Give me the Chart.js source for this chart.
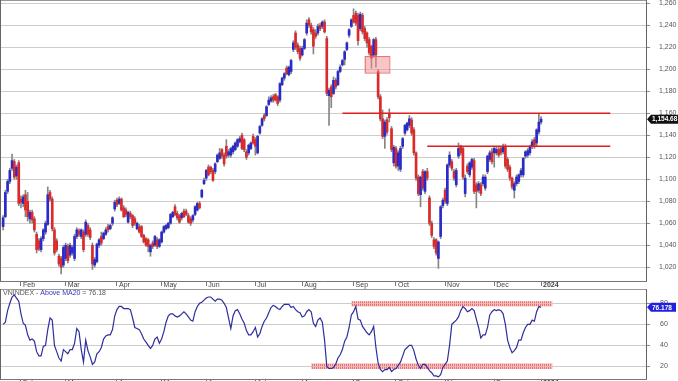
<!DOCTYPE html>
<html>
<head>
<meta charset="utf-8">
<script src="https://cdn.jsdelivr.net/npm/chart.js@4.4.0/dist/chart.umd.min.js"></script>
<style>
  html, body { margin: 0; padding: 0; background: #fff; overflow: hidden; width: 678px; height: 381px; }
  #top { position: absolute; left: 0; top: 0; width: 678px; height: 292px; }
  #bot { position: absolute; left: 0; top: 286px; width: 678px; height: 110px; }
</style>
</head>
<body>
<div id="top"><canvas id="price"></canvas></div>
<div id="bot"><canvas id="breadth"></canvas></div>
<script>
// daily candles, one per trading day (index 0 = mid Jan 2023, 241 = 2 Jan 2024)
const opens = [
  1057,1066,1089,1098,1110,1116,1103,1115,1082,1078,
  1086,1080,1064,1070,1064,1050,1044,1036,1046,1052,
  1059,1088,1082,1054,1044,1030,1028,1022,1028,1039,
  1031,1033,1028,1048,1053,1048,1052,1050,1058,1054,
  1040,1022,1025,1040,1048,1046,1050,1057,1055,1060,
  1073,1081,1078,1082,1074,1072,1061,1069,1067,1064,
  1055,1057,1057,1049,1046,1045,1034,1042,1040,1045,
  1039,1043,1052,1055,1056,1060,1066,1075,1069,1067,
  1065,1071,1071,1067,1064,1063,1068,1072,1078,1084,
  1096,1101,1111,1111,1108,1107,1116,1119,1127,1122,
  1130,1122,1122,1125,1127,1130,1134,1140,1136,1125,
  1124,1128,1139,1136,1124,1142,1149,1158,1158,1168,
  1171,1175,1177,1175,1172,1186,1192,1201,1195,1198,
  1218,1233,1222,1219,1213,1219,1233,1245,1240,1236,
  1233,1233,1240,1239,1243,1228,1176,1184,1178,1190,
  1186,1198,1204,1209,1218,1231,1239,1249,1251,1249,
  1237,1249,1237,1233,1227,1221,1213,1227,1198,1175,
  1155,1139,1154,1160,1146,1115,1128,1112,1109,1130,
  1142,1145,1149,1154,1145,1124,1102,1086,1107,1089,
  1107,1083,1060,1045,1045,1028,1048,1076,1090,1078,
  1113,1116,1107,1095,1121,1130,1128,1087,1112,1104,
  1111,1117,1095,1090,1095,1096,1092,1107,1118,1125,
  1124,1124,1127,1128,1125,1130,1118,1111,1101,1090,
  1096,1098,1104,1104,1121,1122,1124,1130,1136,1133,
  1143,1152
];
const highs = [
  1067,1090,1100,1110,1123,1118,1113,1117,1085,1086,
  1090,1088,1072,1072,1066,1052,1046,1048,1055,1062,
  1093,1090,1084,1056,1046,1032,1030,1040,1042,1041,
  1042,1040,1050,1056,1055,1055,1054,1063,1060,1056,
  1042,1029,1042,1046,1052,1052,1056,1059,1059,1066,
  1081,1083,1084,1083,1076,1074,1071,1071,1068,1066,
  1061,1059,1058,1050,1047,1046,1041,1044,1049,1047,
  1046,1053,1058,1059,1061,1069,1071,1077,1071,1068,
  1070,1073,1073,1069,1066,1068,1076,1079,1080,1091,
  1101,1109,1113,1112,1110,1115,1123,1128,1128,1124,
  1136,1127,1129,1131,1134,1137,1139,1142,1137,1127,
  1132,1134,1141,1138,1140,1149,1156,1160,1167,1175,
  1176,1177,1178,1176,1188,1193,1197,1203,1203,1209,
  1226,1235,1224,1221,1221,1228,1245,1247,1242,1238,
  1236,1241,1242,1244,1245,1230,1183,1186,1193,1192,
  1199,1204,1209,1217,1225,1237,1246,1255,1253,1251,
  1252,1251,1239,1234,1229,1222,1228,1229,1200,1177,
  1163,1154,1156,1164,1148,1131,1130,1126,1130,1138,
  1150,1152,1158,1156,1147,1125,1104,1103,1109,1108,
  1110,1085,1062,1047,1046,1044,1076,1083,1092,1114,
  1125,1118,1109,1110,1133,1131,1130,1104,1114,1116,
  1119,1119,1097,1098,1097,1104,1104,1122,1126,1128,
  1130,1129,1129,1130,1132,1132,1120,1113,1102,1098,
  1104,1105,1110,1120,1126,1128,1131,1136,1138,1146,
  1160,1157
];
const lows = [
  1054,1065,1087,1096,1108,1100,1100,1076,1074,1075,
  1066,1062,1060,1060,1052,1033,1035,1034,1044,1050,
  1058,1080,1053,1031,1034,1021,1014,1020,1026,1024,
  1029,1031,1026,1046,1048,1046,1034,1048,1048,1045,
  1018,1020,1024,1038,1040,1045,1049,1052,1054,1058,
  1071,1075,1077,1071,1065,1066,1060,1064,1056,1058,
  1054,1051,1047,1042,1039,1034,1030,1037,1039,1037,
  1038,1042,1051,1054,1055,1059,1065,1067,1063,1060,
  1063,1065,1067,1060,1058,1061,1067,1071,1073,1083,
  1095,1099,1103,1105,1098,1105,1115,1118,1119,1112,
  1119,1120,1120,1123,1126,1129,1133,1127,1125,1118,
  1122,1127,1132,1122,1123,1141,1148,1153,1157,1167,
  1170,1170,1171,1167,1170,1185,1190,1195,1194,1196,
  1216,1218,1214,1208,1212,1218,1231,1238,1232,1214,
  1228,1231,1235,1237,1233,1176,1149,1165,1177,1182,
  1185,1197,1203,1204,1217,1229,1238,1242,1240,1222,
  1235,1232,1226,1220,1213,1201,1211,1202,1173,1153,
  1137,1128,1141,1152,1125,1112,1110,1108,1107,1128,
  1140,1144,1147,1140,1122,1099,1085,1075,1090,1087,
  1099,1058,1047,1037,1031,1019,1046,1074,1078,1076,
  1111,1108,1099,1093,1119,1122,1100,1084,1105,1102,
  1109,1087,1074,1088,1085,1094,1090,1105,1116,1114,
  1111,1122,1120,1122,1123,1110,1107,1099,1091,1083,
  1094,1096,1102,1102,1119,1120,1122,1128,1128,1130,
  1141,1150
];
const closes = [
  1065,1088,1098,1108,1117,1102,1111,1078,1079,1084,
  1072,1066,1070,1063,1054,1036,1037,1046,1054,1060,
  1086,1082,1055,1033,1036,1023,1020,1038,1040,1026,
  1040,1038,1048,1054,1050,1054,1036,1061,1050,1047,
  1023,1027,1041,1045,1042,1051,1054,1054,1058,1065,
  1079,1077,1082,1072,1066,1068,1070,1066,1058,1060,
  1060,1052,1048,1043,1040,1039,1040,1039,1048,1039,
  1045,1052,1057,1058,1060,1068,1070,1068,1065,1061,
  1069,1066,1068,1061,1060,1067,1075,1078,1074,1090,
  1099,1108,1104,1107,1099,1114,1122,1124,1121,1114,
  1121,1125,1128,1130,1133,1136,1137,1128,1127,1120,
  1131,1133,1133,1130,1139,1148,1155,1155,1166,1172,
  1174,1172,1172,1169,1187,1192,1196,1196,1202,1208,
  1224,1220,1216,1210,1219,1227,1242,1240,1234,1221,
  1230,1239,1237,1243,1234,1178,1181,1175,1190,1184,
  1198,1202,1208,1216,1224,1236,1245,1243,1242,1226,
  1250,1234,1228,1224,1215,1210,1227,1213,1175,1155,
  1139,1152,1143,1156,1127,1129,1112,1124,1128,1137,
  1149,1151,1155,1142,1124,1101,1087,1102,1092,1107,
  1101,1060,1049,1039,1033,1043,1075,1081,1080,1113,
  1122,1110,1101,1108,1128,1124,1102,1101,1107,1115,
  1118,1089,1089,1096,1087,1102,1102,1121,1124,1116,
  1128,1127,1122,1124,1130,1112,1109,1101,1093,1096,
  1102,1104,1108,1119,1125,1126,1130,1134,1131,1145,
  1152,1154.68
];
// VNINDEX - % of stocks above MA20
const aboveMA20 = [
  60,62,73,80,86,88,85,82,70,61,
  59,50,45,46,44,34,30,30,39,40,
  55,66,64,40,34,28,25,36,34,32,
  36,36,42,56,53,36,24,45,35,29,
  22,24,32,34,38,46,49,50,50,55,
  68,74,77,77,75,75,75,74,66,57,
  56,55,51,46,43,40,37,40,46,48,
  42,46,53,62,68,70,70,68,67,68,
  70,72,70,67,64,63,72,77,80,81,
  83,85,86,86,84,82,84,84,83,80,
  76,66,56,68,73,74,70,65,61,54,
  50,50,53,57,48,51,58,63,66,71,
  76,78,77,75,74,77,79,79,79,76,
  77,74,72,71,67,68,72,74,72,61,
  58,64,66,62,45,20,18,18,19,22,
  28,31,36,44,48,57,69,72,77,65,
  64,58,55,52,50,53,58,38,23,17,
  15,17,17,19,15,17,18,21,24,30,
  36,38,40,40,35,27,21,18,22,22,
  19,16,14,11,11,10,12,19,22,25,
  40,60,62,64,67,73,77,75,72,73,
  75,73,65,57,47,50,50,57,69,72,
  74,73,74,73,70,60,45,38,33,35,
  38,45,45,52,57,60,60,64,63,72,
  77,76.18
];

const monthIdx = [8, 28, 51, 71, 91, 113, 134, 157, 176, 198, 220, 241];
const monthNames = ['Feb', 'Mar', 'Apr', 'May', 'Jun', 'Jul', 'Aug', 'Sep', 'Oct', 'Nov', 'Dec', '2024'];
const priceTicks = [1020, 1040, 1060, 1080, 1100, 1120, 1140, 1160, 1180, 1200, 1220, 1240, 1260];
const breadthTicks = [20, 40, 60, 80];

// drawn support / resistance levels (day index range, price)
const levelY = [1160, 1130];
const levelFrom = [152, 190];
const levelTo = [272, 272];
// pink zone on price chart: [fromIdx, toIdx, low, high]
const zoneBox = [162, 173, 1197, 1212];
// bands on breadth chart
const bandFrom = [156, 138];
const bandTo = [246, 246];
const bandLo = [77, 17.5];
const bandHi = [82, 23];

const lastClose = 1154.68;
const lastBreadth = 76.178;

const BLUE = '#2a2acb';
const RED = '#dc2a2a';
const FONT = "'Liberation Sans', Arial, sans-serif";
Chart.defaults.font.family = FONT;
Chart.defaults.font.size = 7;
Chart.defaults.color = '#444';

const frame = {
  id: 'frame',
  afterDraw(chart) {
    const {ctx, chartArea: a} = chart;
    ctx.save();
    ctx.lineWidth = 1;
    ctx.strokeStyle = '#999';
    ctx.beginPath();
    ctx.moveTo(a.left, a.top + 0.5); ctx.lineTo(a.right, a.top + 0.5);
    ctx.stroke();
    ctx.strokeStyle = '#666';
    ctx.beginPath();
    ctx.moveTo(a.right + 0.5, a.top); ctx.lineTo(a.right + 0.5, a.bottom);
    ctx.moveTo(a.left + 0.5, a.top); ctx.lineTo(a.left + 0.5, a.bottom);
    ctx.stroke();
    ctx.restore();
  }
};

function tag(ctx, x, y, w, color, text) {
  ctx.save();
  ctx.fillStyle = color;
  ctx.beginPath();
  ctx.moveTo(x + 1, y);
  ctx.lineTo(x + 5, y - 4.5);
  ctx.lineTo(x + w, y - 4.5);
  ctx.lineTo(x + w, y + 4.5);
  ctx.lineTo(x + 5, y + 4.5);
  ctx.closePath();
  ctx.fill();
  ctx.fillStyle = '#fff';
  ctx.font = 'bold 6.5px ' + FONT;
  ctx.textBaseline = 'middle';
  ctx.fillText(text, x + 6, y + 0.5);
  ctx.restore();
}

const priceExtras = {
  id: 'priceExtras',
  afterDatasetsDraw(chart) {
    const {ctx, chartArea: a, scales: {x, y}} = chart;
    const x1 = x.getPixelForValue(zoneBox[0]), x2 = x.getPixelForValue(zoneBox[1]);
    const y1 = y.getPixelForValue(zoneBox[3]), y2 = y.getPixelForValue(zoneBox[2]);
    ctx.save();
    ctx.fillStyle = 'rgba(245,140,140,0.5)';
    ctx.fillRect(x1, y1, x2 - x1, y2 - y1);
    ctx.strokeStyle = 'rgba(220,90,90,0.8)';
    ctx.lineWidth = 1;
    ctx.strokeRect(x1 + 0.5, y1 + 0.5, x2 - x1, y2 - y1);
    ctx.restore();
    tag(ctx, a.right, y.getPixelForValue(lastClose), 40, '#111', lastClose.toLocaleString('en-US'));
  }
};

let hatch = null;
function hatchPattern(ctx) {
  if (hatch) return hatch;
  const c = document.createElement('canvas');
  c.width = 2; c.height = 3;
  const g = c.getContext('2d');
  g.fillStyle = 'rgba(245,175,175,0.8)';
  g.fillRect(0, 0, 2, 3);
  g.fillStyle = 'rgba(228,105,105,0.9)';
  g.fillRect(0, 0, 1, 2);
  hatch = ctx.createPattern(c, 'repeat');
  return hatch;
}

const breadthExtras = {
  id: 'breadthExtras',
  beforeDatasetsDraw(chart) {
    const {ctx, scales: {x, y}} = chart;
    ctx.save();
    ctx.fillStyle = hatchPattern(ctx);
    for (let k = 0; k < bandFrom.length; k++) {
      const x1 = x.getPixelForValue(bandFrom[k]), x2 = x.getPixelForValue(bandTo[k]);
      const y1 = y.getPixelForValue(bandHi[k]), y2 = y.getPixelForValue(bandLo[k]);
      ctx.fillRect(x1, y1, x2 - x1, y2 - y1);
    }
    ctx.restore();
  },
  afterDatasetsDraw(chart) {
    const {ctx, chartArea: a, scales: {y}} = chart;
    ctx.save();
    ctx.font = '7px ' + FONT;
    ctx.textBaseline = 'top';
    let tx = a.left + 3;
    const parts = [['VNINDEX - ', '#555'], ['Above MA20', '#3535b5'], [' = 76.18', '#555']];
    parts.forEach(([t, c]) => {
      ctx.fillStyle = c;
      ctx.fillText(t, tx, a.top + 1);
      tx += ctx.measureText(t).width;
    });
    ctx.restore();
    tag(ctx, a.right, y.getPixelForValue(lastBreadth), 30, '#2222de', lastBreadth.toString());
  }
};

const wickData = highs.map((h, i) => ({x: i, y: [lows[i], h]}));
const bodyData = opens.map((o, i) => ({x: i, y: [o, closes[i]]}));
const bodyColors = opens.map((o, i) => closes[i] >= o ? BLUE : RED);
const levelSets = levelY.map((v, k) => ({
  type: 'line',
  data: [{x: levelFrom[k], y: v}, {x: levelTo[k], y: v}],
  borderColor: '#e01e1e',
  borderWidth: 1.5,
  pointRadius: 0,
  order: -1
}));

const monthAxis = (height) => ({
  type: 'linear',
  min: -1.4,
  max: 288,
  offset: false,
  afterBuildTicks: s => { s.ticks = monthIdx.map(v => ({value: v})); },
  afterFit: s => { s.height = height; s.paddingLeft = 0; s.paddingRight = 0; },
  grid: { offset: false, drawOnChartArea: false, tickLength: 5, tickColor: '#777' },
  border: { color: '#777' },
  ticks: {
    autoSkip: false,
    maxRotation: 0,
    align: 'start',
    labelOffset: 2,
    padding: -5,
    color: '#444',
    font: c => ({ size: 7, weight: c.index === monthIdx.length - 1 ? 'bold' : 'normal' }),
    callback: v => monthNames[monthIdx.indexOf(v)]
  }
});

new Chart(document.getElementById('price'), {
  type: 'bar',
  data: {
    datasets: [
      { data: wickData, backgroundColor: '#858585', barThickness: 1, grouped: false, order: 2 },
      { data: bodyData, backgroundColor: bodyColors, barThickness: 2, minBarLength: 1, grouped: false, order: 1 },
      ...levelSets
    ]
  },
  options: {
    responsive: true,
    maintainAspectRatio: false,
    animation: false,
    events: [],
    layout: { padding: 0 },
    plugins: { legend: { display: false }, tooltip: { enabled: false } },
    scales: {
      x: monthAxis(11),
      y: {
        position: 'right',
        min: 1007.5,
        max: 1263,
        afterBuildTicks: s => { s.ticks = priceTicks.map(v => ({value: v})); },
        afterFit: s => { s.width = 32; s.paddingTop = 0; s.paddingBottom = 0; },
        grid: { color: '#cdcdcd', tickLength: 4, tickColor: '#888' },
        border: { display: false },
        ticks: { padding: 9, color: '#555', callback: v => v.toLocaleString('en-US') }
      }
    }
  },
  plugins: [frame, priceExtras]
});

new Chart(document.getElementById('breadth'), {
  type: 'line',
  data: {
    datasets: [{
      data: aboveMA20.map((v, i) => ({x: i, y: v})),
      borderColor: '#2e2e9c',
      borderWidth: 1.2,
      pointRadius: 0,
      tension: 0
    }]
  },
  options: {
    responsive: true,
    maintainAspectRatio: false,
    animation: false,
    events: [],
    layout: { padding: { top: 3 } },
    plugins: { legend: { display: false }, tooltip: { enabled: false } },
    scales: {
      x: monthAxis(17),
      y: {
        position: 'right',
        min: 8,
        max: 93.6,
        afterBuildTicks: s => { s.ticks = breadthTicks.map(v => ({value: v})); },
        afterFit: s => { s.width = 32; s.paddingTop = 0; s.paddingBottom = 0; },
        grid: { color: '#cdcdcd', tickLength: 4, tickColor: '#888' },
        border: { display: false },
        ticks: { padding: 10, color: '#555' }
      }
    }
  },
  plugins: [frame, breadthExtras]
});
</script>
</body>
</html>
